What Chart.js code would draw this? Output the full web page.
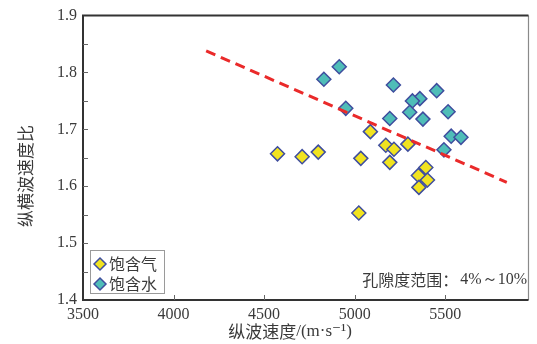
<!DOCTYPE html>
<html>
<head>
  <meta charset="utf-8">
  <title>纵横波速度比</title>
  <script src="https://cdn.jsdelivr.net/npm/chart.js"></script>
  <style>
    html, body { margin: 0; padding: 0; background: #fff; }
    #wrap { width: 537px; height: 344px; }
  </style>
</head>
<body>
  <div id="wrap"><canvas id="chart" width="537" height="344"></canvas></div>
  <script>
    // 饱含气 (gas saturated)
    const gasVp = [4574, 4710, 4799, 5034, 5087, 5172, 5217, 5194, 5294, 5393, 5352, 5402, 5355, 5023];
    const gasRatio = [1.657, 1.652, 1.660, 1.649, 1.696, 1.672, 1.665, 1.642, 1.674, 1.633, 1.619, 1.611, 1.598, 1.553];
    // 饱含水 (water saturated)
    const waterVp = [4915, 4830, 5214, 5453, 5360, 5319, 4951, 5516, 5304, 5377, 5194, 5533, 5587, 5493];
    const waterRatio = [1.810, 1.788, 1.778, 1.768, 1.754, 1.750, 1.737, 1.731, 1.730, 1.718, 1.719, 1.688, 1.686, 1.664];
    // dashed trend line ends
    const trendVp = [4180, 5840];
    const trendRatio = [1.838, 1.607];

    const xTicks = [3500, 4000, 4500, 5000, 5500];
    const yTicks = [1.4, 1.5, 1.6, 1.7, 1.8, 1.9];
    const yMinor = [1.45, 1.55, 1.65, 1.75, 1.85];

    const legendLabels = ['饱含气', '饱含水'];
    const xTitleCn = '纵波速度';
    const xTitleUnit = '/(m·s⁻¹)';
    const yTitle = '纵横波速度比';
    const noteCn = '孔隙度范围：';
    const noteNum = '4%～10%';

    const toPts = (xs, ys) => xs.map((x, i) => ({ x: x, y: ys[i] }));

    const gasColor = '#f1e31f';
    const waterColor = '#4fbdb8';
    const edgeColor = '#3f4e9e';
    const textColor = '#3a3a3a';
    const cnFont = '"Noto Sans CJK SC"';
    const numFont = '"Liberation Serif", "DejaVu Serif", serif';

    // frame, inside ticks, legend box and texts
    const decor = {
      id: 'decor',
      afterDraw(chart) {
        const ctx = chart.ctx;
        const a = chart.chartArea;
        const xs = chart.scales.x, ys = chart.scales.y;
        ctx.save();
        // right border lighter
        ctx.strokeStyle = '#8a8a8a';
        ctx.lineWidth = 1.2;
        ctx.beginPath();
        ctx.moveTo(a.right, a.top);
        ctx.lineTo(a.right, a.bottom);
        ctx.stroke();
        // dark borders
        ctx.strokeStyle = '#333';
        ctx.lineWidth = 2;
        ctx.beginPath();
        ctx.moveTo(a.right, a.top);
        ctx.lineTo(a.left, a.top);
        ctx.lineTo(a.left, a.bottom);
        ctx.lineTo(a.right, a.bottom);
        ctx.stroke();
        // inside ticks
        ctx.strokeStyle = '#666';
        ctx.lineWidth = 1;
        ctx.beginPath();
        xTicks.slice(1).forEach(v => {
          const px = Math.round(xs.getPixelForValue(v)) + 0.5;
          ctx.moveTo(px, a.bottom);
          ctx.lineTo(px, a.bottom - 5);
        });
        yTicks.slice(1, -1).concat(yMinor).forEach(v => {
          const py = Math.round(ys.getPixelForValue(v)) + 0.5;
          ctx.moveTo(a.left, py);
          ctx.lineTo(a.left + 5, py);
        });
        ctx.stroke();

        // legend
        ctx.fillStyle = '#fff';
        ctx.fillRect(90, 250, 74, 43);
        ctx.strokeStyle = '#9a9a9a';
        ctx.lineWidth = 1;
        ctx.strokeRect(90.5, 250.5, 74, 43);
        const fills = [gasColor, waterColor];
        legendLabels.forEach((t, i) => {
          const cy = 264 + i * 20;
          ctx.fillStyle = fills[i];
          ctx.strokeStyle = edgeColor;
          ctx.lineWidth = 1.5;
          Chart.helpers.drawPoint(ctx, { pointStyle: 'rectRot', radius: 6, borderWidth: 1.5 }, 100, cy);
          ctx.fillStyle = textColor;
          ctx.font = '16px ' + cnFont;
          ctx.textAlign = 'left';
          ctx.textBaseline = 'middle';
          ctx.fillText(t, 109, cy);
        });

        // note: Chinese part then numbers in serif
        ctx.fillStyle = textColor;
        ctx.textBaseline = 'middle';
        ctx.textAlign = 'right';
        ctx.font = '16px ' + numFont;
        ctx.fillText(noteNum, 527, 280);
        const wNum = ctx.measureText(noteNum).width;
        ctx.font = '16px ' + cnFont;
        ctx.fillText(noteCn, 527 - wNum - 2, 280);

        // x title
        ctx.textAlign = 'left';
        ctx.font = '17px ' + cnFont;
        const wCn = ctx.measureText(xTitleCn).width;
        ctx.font = '17px ' + numFont;
        const wUnit = ctx.measureText(xTitleUnit).width;
        const x0 = 290 - (wCn + wUnit) / 2;
        ctx.font = '17px ' + cnFont;
        ctx.fillText(xTitleCn, x0, 332);
        ctx.font = '17px ' + numFont;
        ctx.fillText(xTitleUnit, x0 + wCn, 332);

        // y title
        ctx.textAlign = 'center';
        ctx.font = '17px ' + cnFont;
        ctx.translate(26, 176);
        ctx.rotate(-Math.PI / 2);
        ctx.fillText(yTitle, 0, 0);
        ctx.restore();
      }
    };

    new Chart(document.getElementById('chart'), {
      data: {
        datasets: [
          {
            type: 'line',
            label: 'trend',
            data: toPts(trendVp, trendRatio),
            borderColor: '#ea2a2a',
            borderWidth: 3,
            borderDash: [10, 6],
            pointRadius: 0,
            fill: false,
            order: 0
          },
          {
            type: 'scatter',
            label: legendLabels[0],
            data: toPts(gasVp, gasRatio),
            pointStyle: 'rectRot',
            pointRadius: 7,
            backgroundColor: gasColor,
            borderColor: edgeColor,
            borderWidth: 1.5,
            order: 1
          },
          {
            type: 'scatter',
            label: legendLabels[1],
            data: toPts(waterVp, waterRatio),
            pointStyle: 'rectRot',
            pointRadius: 7,
            backgroundColor: waterColor,
            borderColor: edgeColor,
            borderWidth: 1.5,
            order: 1
          }
        ]
      },
      options: {
        responsive: false,
        animation: false,
        layout: { padding: { top: 12, right: 2, left: 0, bottom: 0 } },
        plugins: { legend: { display: false }, tooltip: { enabled: false } },
        scales: {
          x: {
            type: 'linear',
            min: 3500,
            max: 5960,
            afterBuildTicks: s => { s.ticks = xTicks.map(v => ({ value: v })); },
            afterFit: s => { s.height = 44; },
            grid: { display: false, drawTicks: false },
            border: { display: false },
            ticks: {
              padding: 5,
              color: textColor,
              font: { family: numFont, size: 16 },
              callback: v => String(v)
            }
          },
          y: {
            type: 'linear',
            min: 1.4,
            max: 1.9,
            afterBuildTicks: s => { s.ticks = yTicks.map(v => ({ value: v })); },
            afterFit: s => { s.width = 83; },
            grid: { display: false, drawTicks: false },
            border: { display: false },
            ticks: {
              padding: 6,
              color: textColor,
              font: { family: numFont, size: 16 },
              callback: v => v.toFixed(1)
            }
          }
        }
      },
      plugins: [decor]
    });
  </script>
</body>
</html>
